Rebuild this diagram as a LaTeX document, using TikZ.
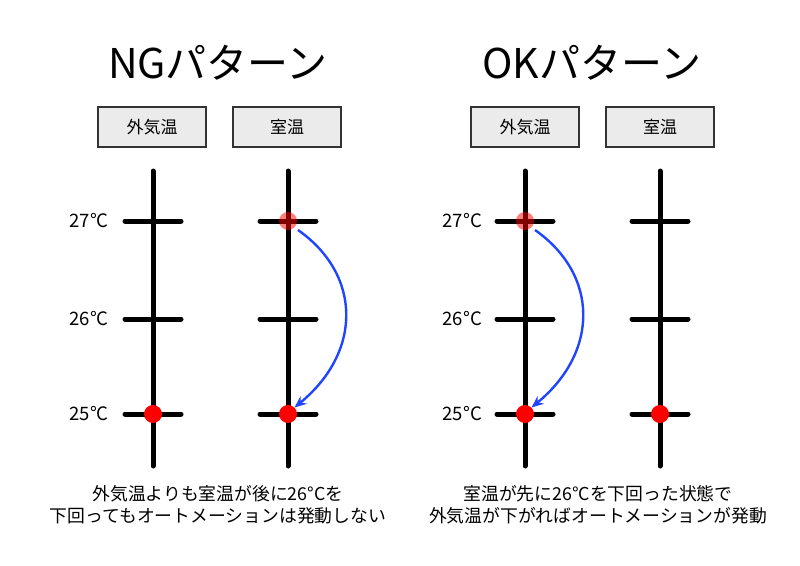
\documentclass[tikz,border=0pt]{standalone}
\usepackage{fontspec}
\setmainfont{Noto Sans CJK JP}
\usetikzlibrary{arrows.meta}
\definecolor{boxgray}{HTML}{EBEBEB}
\definecolor{boxline}{HTML}{333333}
\definecolor{arrowblue}{HTML}{1F45FF}
\tikzset{
  title/.style={font=\fontsize{41}{48}\selectfont, inner sep=0pt},
  headbox/.style={draw=boxline, fill=boxgray, line width=1.8pt, minimum width=108pt, minimum height=40pt, font=\fontsize{17}{20}\selectfont, inner sep=0pt},
  axis/.style={line width=5pt, line cap=round},
  tick/.style={line width=5pt, line cap=round},
  temp/.style={font=\fontsize{18.5}{22}\selectfont, anchor=east, inner sep=0pt},
  dot/.style={circle, fill=red, minimum size=18pt, inner sep=0pt},
  ghost/.style={circle, fill=red, fill opacity=0.5, minimum size=18pt, inner sep=0pt},
  move/.style={draw=arrowblue, line width=2.4pt, -{Stealth[length=12pt,width=10pt]}},
  note/.style={font=\fontsize{17.8}{22}\selectfont, align=center, inner sep=0pt}
}
\begin{document}
\begin{tikzpicture}[x=1pt,y=-1pt]
\useasboundingbox (0,0) rectangle (800,565);
% titles
\node[title] (tng) at (218,63) {NGパターン};
\node[title] (tok) at (592,63) {OKパターン};
% header boxes
\node[headbox] (h1) at (152,127) {外気温};
\node[headbox] (h2) at (287,127) {室温};
\node[headbox] (h3) at (525,127) {外気温};
\node[headbox] (h4) at (660,127) {室温};
% axes
\foreach \n/\x in {a1/153,a2/288,a3/525,a4/660}{
  \coordinate (\n top) at (\x,171);
  \coordinate (\n bot) at (\x,466);
  \draw[axis] (\n top) -- (\n bot);
  \foreach \t/\y in {t27/221,t26/319,t25/414}{
    \coordinate (\n\t l) at (\x-28,\y);
    \coordinate (\n\t r) at (\x+28,\y);
    \draw[tick] (\n\t l) -- (\n\t r);
  }
}
% temperature labels
\node[temp] (l1a) at (109,221) {27°C};
\node[temp] (l1b) at (109,319) {26°C};
\node[temp] (l1c) at (109,414) {25°C};
\node[temp] (l2a) at (482,221) {27°C};
\node[temp] (l2b) at (482,319) {26°C};
\node[temp] (l2c) at (482,414) {25°C};
% dots NG
\node[dot] (d1) at (153,414) {};
\node[ghost] (d2) at (288,221) {};
\node[dot] (d3) at (288,414) {};
% dots OK
\node[ghost] (d4) at (525,221) {};
\node[dot] (d5) at (525,414) {};
\node[dot] (d6) at (660,414) {};
% arrows
\coordinate (s2) at (298,230);
\coordinate (s4) at (535,230);
\draw[move] (s2) .. controls (362,275) and (362,352) .. (d3.45);
\draw[move] (s4) .. controls (599,275) and (599,352) .. (d5.45);
% notes
\node[note] (n1) at (218,505) {外気温よりも室温が後に26°Cを\\下回ってもオートメーションは発動しない};
\node[note] (n2) at (598,505) {室温が先に26°Cを下回った状態で\\外気温が下がればオートメーションが発動};
\end{tikzpicture}
\end{document}
